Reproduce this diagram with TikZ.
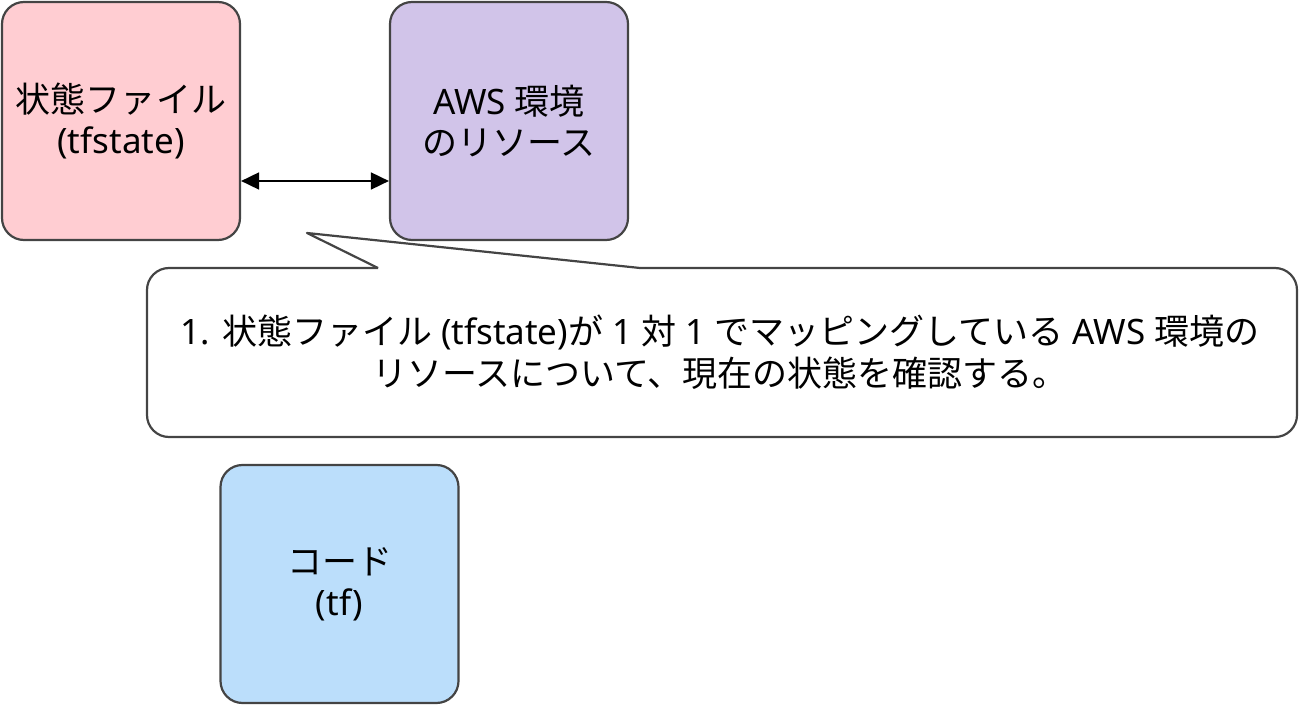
\documentclass[tikz,border=0pt]{standalone}
\usepackage{fontspec}
\setmainfont{Noto Sans}
\newfontfamily\jp{Noto Sans CJK JP}
\newcommand\J[1]{{\jp #1}}
\usetikzlibrary{arrows.meta}
\definecolor{pinkfill}{HTML}{FFCDD2}
\definecolor{purplefill}{HTML}{D1C4E9}
\definecolor{bluefill}{HTML}{BBDEFB}
\definecolor{strokegray}{HTML}{444444}
\tikzset{
  card/.style={draw=strokegray, line width=1.1pt, rounded corners=11pt,
    minimum width=119pt, minimum height=119pt, align=center,
    font=\fontsize{17.5pt}{20.5pt}\selectfont, inner sep=0pt},
  outline/.style={draw=strokegray, line width=1.1pt},
  link/.style={black, line width=0.9pt, {Triangle[length=9pt,width=8.5pt]}-{Triangle[length=9pt,width=8.5pt]}}
}
\begin{document}
\begin{tikzpicture}[x=0.5pt,y=-0.5pt]
\useasboundingbox (0,0) rectangle (1300,705);
\node[card, fill=pinkfill] (state) at (121,121) {\J{状態ファイル}\\(tfstate)};
\node[card, fill=purplefill] (aws) at (509,121) {AWS \J{環境}\\\J{のリソース}};
\node[card, fill=bluefill] (code) at (339.5,584) {\J{コード}\\(tf)};
\draw[link] ([yshift=-30pt]state.east) -- ([yshift=-30pt]aws.west);
% callout
\coordinate (pa) at (378,268);
\coordinate (pb) at (640,268);
\coordinate (tip) at (307,233);
\draw[outline, rounded corners=11pt] (pa) -- (147,268) -- (147,437) -- (1297,437) -- (1297,268) -- (pb);
\draw[outline, line join=round] (pb) -- (tip) -- (pa);
\node[align=center, font=\fontsize{17.5pt}{21pt}\selectfont, inner sep=0pt] (note) at (720,352)
  {1. \J{状態ファイル} (tfstate)\J{が} 1 \J{対} 1 \J{でマッピングしている} AWS \J{環境の}\\
   \J{リソースについて、現在の状態を確認する。}};
\end{tikzpicture}
\end{document}
